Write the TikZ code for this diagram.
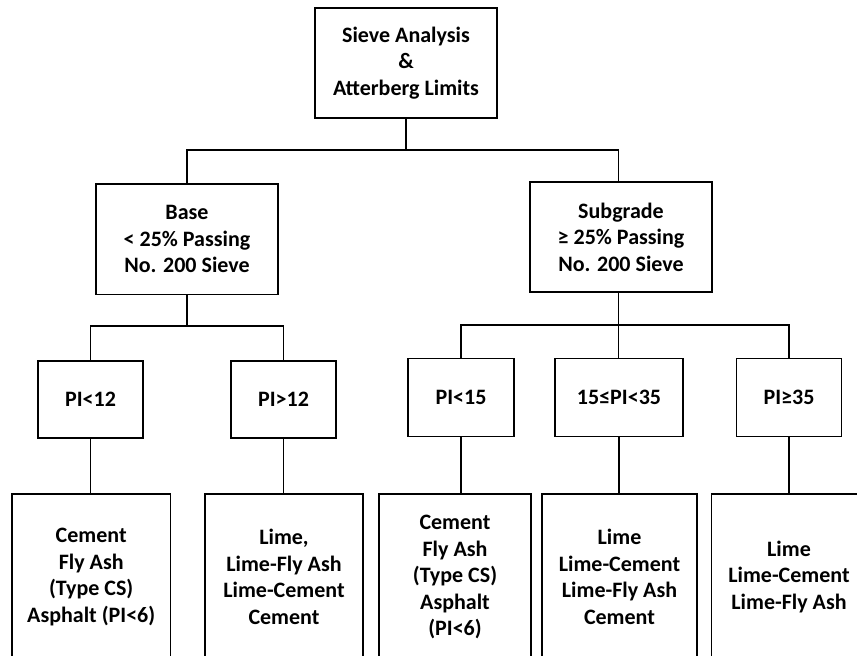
\documentclass[tikz,border=0pt]{standalone}
\usepackage{fontspec}
\setmainfont{Carlito}
\begin{document}
\begin{tikzpicture}[x=1pt,y=-1pt,
  box/.style={draw=black,line width=1.1pt,fill=white,align=center,inner sep=0pt,
    font=\fontsize{22}{26.5}\selectfont\bfseries},
  conn/.style={draw=black,line width=1.1pt}]
\useasboundingbox (0,0) rectangle (857,656);
\clip (0,0) rectangle (857,656);
% level 1
\node[box,minimum width=182pt,minimum height=110pt] (top) at (406,63) {Sieve Analysis\\\&\\Atterberg Limits};
% level 2
\node[box,minimum width=182pt,minimum height=110.5pt] (base) at (187,239.2) {Base\\< 25\% Passing\\No. 200 Sieve};
\node[box,minimum width=182pt,minimum height=110pt] (sub) at (621,237) {Subgrade\\≥ 25\% Passing\\No. 200 Sieve};
% level 3
\node[box,minimum width=105pt,minimum height=77pt] (pa) at (90.5,399.5) {PI<12};
\node[box,minimum width=105pt,minimum height=77pt] (pb) at (283.5,399.5) {PI>12};
\node[box,minimum width=106pt,minimum height=78pt] (pc) at (461,397.2) {PI<15};
\node[box,minimum width=128pt,minimum height=78pt] (pd) at (619,397.2) {15≤PI<35};
\node[box,minimum width=104.5pt,minimum height=78pt] (pe) at (789,397.2) {PI≥35};
% level 4
\node[box,minimum width=158.5pt,minimum height=166pt] (ra) at (91.2,577) {Cement\\Fly Ash\\(Type CS)\\Asphalt (PI<6)};
\node[box,minimum width=158pt,minimum height=166pt] (rb) at (284,577) {Lime,\\Lime-Fly Ash\\Lime-Cement\\Cement};
\node[box,minimum width=152pt,minimum height=166pt] (rc) at (455,577) {Cement\\Fly Ash\\(Type CS)\\Asphalt\\(PI<6)};
\node[box,minimum width=155pt,minimum height=166pt] (rd) at (619.5,577) {Lime\\Lime-Cement\\Lime-Fly Ash\\Cement};
\node[box,minimum width=155pt,minimum height=166pt] (re) at (789,577) {Lime\\Lime-Cement\\Lime-Fly Ash};
% junctions
\coordinate (j1) at (406,150);
\coordinate (j2) at (187,326);
\coordinate (j3) at (618.5,325);
\coordinate (sj) at (618.5,182);
% connectors
\draw[conn] (top.south) -- (j1);
\draw[conn] (base.north) |- (j1) -| (sj);
\draw[conn] (base.south) -- (j2);
\draw[conn] (pa.north) |- (j2) -| (pb.north);
\draw[conn] (j3 |- sub.south) -- (j3);
\draw[conn] (pc.north) |- (j3) -| (pe.north);
\draw[conn] (j3) -- (j3 |- pd.north);
\draw[conn] (pa.south) -- (pa.south |- ra.north);
\draw[conn] (pb.south) -- (pb.south |- rb.north);
\draw[conn] (pc.south) -- (pc.south |- rc.north);
\draw[conn] (pd.south) -- (pd.south |- rd.north);
\draw[conn] (pe.south) -- (pe.south |- re.north);
\end{tikzpicture}
\end{document}
